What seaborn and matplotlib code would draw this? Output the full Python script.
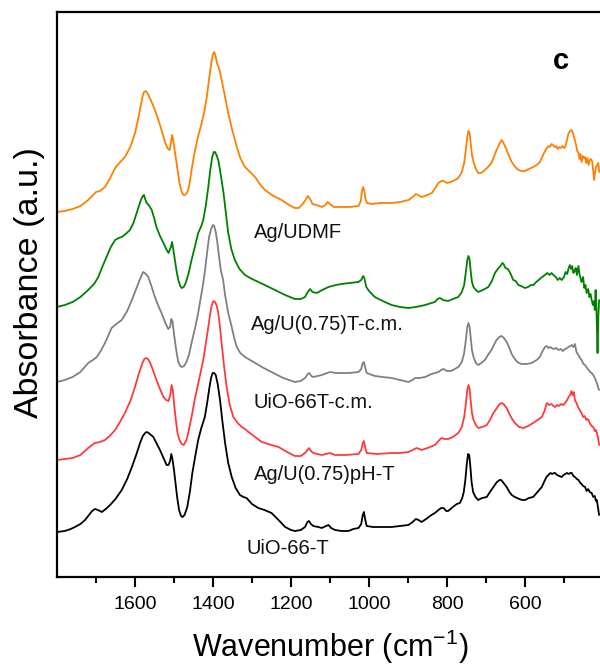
import matplotlib
matplotlib.use("Agg")
import matplotlib.pyplot as plt
import seaborn as sns
import pandas as pd
from matplotlib.ticker import FixedLocator

# FTIR spectra, stacked (absorbance in arbitrary, offset units)
wn_udmf = [1800, 1780, 1760, 1740, 1720, 1710, 1700, 1690, 1677, 1665, 1651, 1640, 1626, 1612,
           1600, 1592, 1586, 1581, 1577, 1573, 1568, 1562, 1555, 1549, 1540, 1532, 1524, 1517,
           1511, 1508, 1505, 1502, 1499, 1495, 1491, 1486, 1481, 1476, 1472, 1467, 1463, 1459,
           1455, 1449, 1442, 1436, 1429, 1422, 1416, 1412, 1408, 1404, 1400, 1397, 1394, 1390,
           1386, 1382, 1378, 1370, 1361, 1350, 1339, 1330, 1318, 1305, 1292, 1280, 1267, 1245,
           1224, 1205, 1190, 1180, 1170, 1163, 1157, 1151, 1145, 1135, 1121, 1112, 1106, 1100,
           1090, 1074, 1050, 1027, 1021, 1018, 1015, 1012, 1009, 1005, 993, 970, 942, 920, 899,
           888, 880, 874, 865, 850, 839, 830, 822, 815, 809, 800, 790, 780, 771, 762, 756, 752,
           748, 745, 742, 739, 736, 732, 726, 720, 712, 703, 695, 686, 680, 673, 666, 660, 655,
           647, 640, 634, 625, 617, 608, 600, 590, 579, 570, 562, 556, 550, 544, 540, 536, 532,
           528, 524, 520, 516, 512, 508, 504, 500, 497, 493, 489, 485, 481, 477, 473, 469, 466,
           463, 460, 458, 455, 452, 449, 446, 443, 440, 437, 434, 431, 428, 425, 423, 421, 418,
           415, 412, 410]
ab_udmf = [365, 366, 368, 371, 377, 381, 385, 386, 390, 398, 409, 414, 420, 430,
           444, 458, 470, 480, 485, 486, 484, 479, 473, 467, 457, 447, 436, 429,
           427, 434, 442, 437, 429, 418, 407, 394, 386, 382, 382, 384, 388, 396,
           407, 421, 434, 444, 454, 466, 480, 492, 504, 515, 523, 525, 522, 514,
           510, 505, 497, 482, 464, 446, 430, 419, 410, 405, 400, 393, 387, 381,
           377, 372, 369, 369, 373, 377, 381, 378, 373, 372, 370, 372, 375, 373,
           370, 370, 370, 371, 376, 386, 390, 386, 378, 374, 373, 374, 374, 375, 377,
           380, 383, 382, 380, 382, 384, 389, 394, 396, 396, 394, 395, 397, 399, 405, 414, 426,
           440, 446, 444, 433, 422, 415, 408, 404, 404, 407, 410, 414, 420, 427, 433, 437, 434,
           427, 420, 415, 410, 407, 406, 406, 408, 410, 412, 415, 420, 425, 429, 431, 430, 433,
           432, 430, 431, 428, 430, 429, 431, 429, 430, 436, 443, 446, 447, 444, 438, 432, 426,
           424, 418, 423, 415, 421, 419, 420, 414, 419, 412, 417, 418, 416, 406, 397, 402, 410,
           412, 414, 405]

wn_tcm = [1800, 1780, 1760, 1740, 1720, 1705, 1694, 1684, 1673, 1662, 1651, 1642, 1634, 1624,
          1613, 1604, 1596, 1590, 1585, 1580, 1577, 1574, 1570, 1565, 1557, 1551, 1545, 1536,
          1527, 1520, 1514, 1508, 1505, 1502, 1498, 1493, 1489, 1484, 1480, 1475, 1470, 1463,
          1455, 1446, 1438, 1430, 1425, 1419, 1412, 1407, 1402, 1398, 1395, 1391, 1386, 1380,
          1373, 1367, 1361, 1353, 1344, 1332, 1318, 1300, 1284, 1262, 1241, 1215, 1190, 1175,
          1164, 1157, 1151, 1145, 1134, 1120, 1104, 1085, 1070, 1050, 1027, 1020, 1015, 1012,
          1007, 1000, 985, 965, 942, 920, 899, 880, 856, 840, 831, 824, 818, 810, 797, 785, 771,
          762, 756, 752, 748, 745, 742, 739, 736, 732, 726, 720, 708, 694, 685, 677, 670, 663,
          658, 655, 650, 644, 638, 630, 624, 617, 610, 600, 592, 585, 578, 574, 565, 556, 549,
          543, 537, 532, 527, 521, 516, 511, 506, 500, 496, 492, 488, 485, 482, 479, 476, 473,
          470, 467, 463, 460, 457, 455, 451, 448, 445, 442, 438, 435, 432, 429, 426, 423, 421,
          419, 417, 415, 414, 412, 410]
ab_tcm = [270, 272, 275, 280, 287, 293, 300, 310, 320, 330, 337, 339, 340, 343,
          347, 354, 364, 371, 377, 381, 382, 378, 374, 372, 367, 359, 350, 341,
          334, 328, 324, 330, 335, 328, 318, 305, 297, 291, 289, 290, 294, 303,
          317, 331, 344, 351, 357, 370, 390, 407, 420, 425, 425, 422, 416, 402,
          384, 364, 344, 328, 317, 308, 302, 298, 295, 291, 287, 282, 278, 278,
          280, 285, 288, 285, 284, 287, 290, 292, 293, 294, 295, 297, 301, 299,
          290, 286, 280, 276, 272, 270, 269, 270, 272, 274, 275, 278, 279, 277, 276, 278, 280,
          285, 292, 304, 317, 321, 317, 305, 295, 290, 287, 285, 287, 290, 296, 304, 308, 311,
          314, 313, 309, 308, 304, 297, 296, 292, 291, 289, 290, 292, 292, 294, 297, 300, 302,
          304, 302, 304, 302, 300, 297, 299, 297, 300, 305, 303, 309, 312, 308, 311, 304, 306,
          309, 302, 311, 302, 298, 295, 300, 289, 292, 284, 288, 280, 283, 277, 272, 276, 267,
          287, 270, 240, 224, 260, 277]

wn_uio_cm = [1800, 1780, 1760, 1740, 1720, 1708, 1698, 1688, 1677, 1668, 1660, 1648, 1634, 1620,
             1608, 1598, 1590, 1584, 1579, 1575, 1570, 1566, 1558, 1549, 1540, 1532, 1523, 1515,
             1510, 1507, 1504, 1499, 1494, 1489, 1484, 1480, 1474, 1468, 1461, 1455, 1446, 1438,
             1432, 1427, 1421, 1415, 1410, 1405, 1400, 1397, 1393, 1389, 1385, 1380, 1374, 1369,
             1361, 1352, 1345, 1339, 1330, 1318, 1305, 1292, 1270, 1250, 1220, 1190, 1175, 1164,
             1157, 1153, 1148, 1143, 1121, 1100, 1085, 1070, 1050, 1027, 1020, 1016, 1013, 1010,
             1006, 985, 965, 942, 920, 899, 888, 882, 870, 856, 840, 822, 815, 809, 800, 790, 780,
             771, 762, 756, 752, 748, 745, 742, 739, 736, 732, 726, 720, 712, 703, 695, 686, 680,
             673, 666, 660, 654, 647, 640, 634, 628, 620, 609, 595, 583, 570, 562, 556, 549, 544,
             540, 535, 532, 526, 520, 514, 508, 503, 497, 492, 488, 484, 480, 476, 472, 468, 463,
             459, 455, 450, 446, 441, 437, 433, 429, 425, 421, 418, 415, 412, 410]
ab_uio_cm = [195, 197, 200, 205, 214, 217, 220, 226, 234, 242, 249, 253, 257, 266,
             277, 287, 295, 301, 305, 304, 302, 300, 291, 280, 271, 264, 255, 248,
             250, 258, 256, 240, 226, 215, 211, 210, 211, 215, 223, 234, 249, 264,
             278, 289, 305, 325, 340, 348, 352, 351, 345, 335, 322, 307, 297, 282,
             264, 250, 238, 230, 224, 220, 217, 214, 209, 205, 199, 195, 196, 199,
             203, 204, 201, 200, 202, 205, 204, 204, 204, 205, 208, 214, 215, 210,
             204, 201, 200, 199, 197, 195, 197, 199, 199, 200, 203, 205, 207, 208, 206, 206, 208,
             210, 215, 224, 236, 250, 254, 250, 238, 227, 220, 214, 212, 214, 217, 222, 227, 232,
             237, 240, 241, 239, 235, 229, 223, 219, 215, 213, 213, 214, 217, 220, 225, 230, 231,
             229, 230, 229, 228, 229, 227, 228, 226, 228, 229, 230, 231, 232, 230, 233, 225, 222,
             219, 217, 213, 212, 209, 207, 205, 204, 202, 199, 196, 193, 189, 187]

wn_ph = [1800, 1780, 1760, 1740, 1720, 1710, 1703, 1690, 1677, 1665, 1651, 1640, 1626, 1612,
         1600, 1592, 1586, 1581, 1576, 1572, 1567, 1562, 1555, 1545, 1536, 1527, 1520, 1514,
         1509, 1506, 1503, 1499, 1495, 1491, 1486, 1480, 1475, 1468, 1462, 1455, 1447, 1438,
         1430, 1425, 1419, 1412, 1407, 1403, 1399, 1395, 1391, 1387, 1382, 1378, 1372, 1365,
         1357, 1348, 1337, 1326, 1318, 1309, 1292, 1275, 1250, 1232, 1210, 1190, 1175, 1164,
         1158, 1154, 1149, 1143, 1121, 1110, 1100, 1087, 1060, 1027, 1020, 1016, 1013, 1010,
         1006, 980, 942, 920, 899, 888, 878, 871, 865, 850, 831, 822, 814, 806, 797, 785, 771,
         762, 756, 752, 748, 745, 742, 739, 736, 732, 726, 720, 710, 698, 690, 681, 672, 665,
         661, 655, 647, 640, 633, 626, 615, 604, 592, 579, 568, 557, 550, 544, 538, 532, 527,
         523, 518, 513, 508, 503, 497, 492, 488, 484, 481, 478, 475, 472, 468, 464, 460, 455,
         451, 447, 443, 440, 437, 433, 429, 425, 421, 418, 416, 413, 410]
ab_ph = [117, 118, 119, 122, 129, 132, 134, 135, 137, 141, 147, 154, 164, 176,
         190, 201, 208, 214, 218, 219, 218, 215, 208, 197, 188, 180, 177, 176,
         183, 192, 187, 170, 156, 144, 137, 133, 132, 137, 147, 160, 177, 194,
         208, 217, 232, 250, 264, 272, 276, 275, 272, 265, 250, 234, 212, 190,
         172, 160, 154, 150, 148, 145, 140, 135, 132, 130, 125, 121, 121, 124,
         127, 129, 126, 124, 122, 123, 124, 122, 122, 123, 127, 134, 136, 130,
         124, 123, 124, 124, 125, 127, 129, 128, 127, 129, 132, 136, 139, 138, 138, 140, 144,
         150, 160, 172, 187, 192, 188, 175, 164, 157, 152, 149, 150, 152, 157, 164, 169, 173,
         174, 173, 169, 163, 158, 154, 150, 149, 151, 154, 157, 160, 166, 174, 172, 173, 171,
         170, 172, 171, 173, 172, 174, 177, 180, 182, 186, 182, 185, 177, 174, 170, 167, 164,
         160, 161, 157, 158, 157, 153, 151, 150, 146, 147, 144, 140, 132]

wn_uio = [1800, 1780, 1765, 1754, 1740, 1728, 1718, 1710, 1703, 1695, 1685, 1675, 1664, 1650,
          1634, 1620, 1608, 1597, 1587, 1580, 1574, 1570, 1565, 1559, 1553, 1545, 1536, 1527,
          1519, 1514, 1510, 1507, 1504, 1500, 1497, 1492, 1487, 1482, 1478, 1473, 1466, 1459,
          1453, 1445, 1438, 1430, 1421, 1415, 1409, 1405, 1401, 1397, 1393, 1388, 1382, 1376,
          1369, 1361, 1352, 1342, 1331, 1322, 1314, 1300, 1284, 1268, 1250, 1232, 1215, 1200,
          1190, 1175, 1164, 1158, 1154, 1149, 1143, 1130, 1121, 1110, 1104, 1097, 1087, 1070,
          1053, 1040, 1027, 1020, 1016, 1013, 1010, 1006, 990, 970, 942, 920, 899, 888, 880, 873,
          865, 850, 840, 831, 822, 815, 809, 802, 797, 785, 775, 767, 761, 757, 753, 749, 746,
          743, 740, 737, 733, 727, 720, 710, 698, 690, 681, 672, 665, 661, 655, 647, 640, 634,
          626, 615, 607, 600, 590, 579, 568, 557, 550, 545, 540, 535, 530, 526, 523, 518, 512,
          506, 501, 497, 492, 488, 484, 480, 476, 472, 467, 463, 458, 455, 451, 446, 442, 438,
          434, 429, 425, 421, 418, 416, 413, 410]
ab_uio = [45, 46, 48, 50, 53, 57, 62, 66, 68, 67, 65, 68, 72, 78,
          87, 98, 110, 122, 134, 141, 144, 145, 144, 142, 140, 134, 127, 119,
          112, 112, 116, 123, 118, 107, 97, 80, 67, 61, 60, 62, 70, 86,
          104, 122, 137, 149, 160, 174, 190, 199, 204, 204, 202, 193, 177, 156,
          134, 114, 100, 89, 82, 80, 79, 73, 69, 67, 64, 57, 50, 47,
          46, 47, 50, 55, 56, 53, 51, 50, 49, 51, 52, 49, 47, 46,
          46, 48, 49, 53, 62, 65, 58, 51, 50, 50, 50, 51, 52, 55, 58, 57,
          55, 59, 62, 64, 67, 69, 69, 66, 66, 70, 73, 74, 79, 85, 97, 114, 123,
          122, 110, 95, 85, 80, 77, 79, 80, 85, 90, 95, 97, 97, 94, 90, 85, 82,
          80, 78, 77, 77, 79, 80, 85, 90, 96, 100, 102, 104, 103, 104, 104, 102, 101,
          100, 102, 103, 104, 103, 104, 104, 101, 100, 98, 97, 94, 93, 91, 90, 86, 88,
          85, 84, 80, 81, 76, 77, 70, 62]

names = ["Ag/UDMF", "Ag/U(0.75)T-c.m.", "UiO-66T-c.m.", "Ag/U(0.75)pH-T", "UiO-66-T"]
colors = ["#ff8000", "#008000", "#808080", "#ff3a3a", "#000000"]
label_wn = [1295, 1303, 1295, 1295, 1313]
label_ab = [344, 252, 175, 102, 29]

series = [(wn_udmf, ab_udmf), (wn_tcm, ab_tcm), (wn_uio_cm, ab_uio_cm),
          (wn_ph, ab_ph), (wn_uio, ab_uio)]
frames = []
for name, (w, a) in zip(names, series):
    frames.append(pd.DataFrame({"wavenumber": w, "absorbance": a, "sample": name}))
df = pd.concat(frames, ignore_index=True)

sns.set_theme(style="white", rc={"text.color": "black", "axes.labelcolor": "black",
                                 "xtick.color": "black", "mathtext.default": "regular"})
plt.rcParams["font.family"] = ["Liberation Sans", "DejaVu Sans"]

fig = plt.figure(figsize=(6.0, 6.66), dpi=100)
ax = fig.add_axes([57 / 600, 89 / 666, 546 / 600, 565 / 666])

sns.lineplot(data=df, x="wavenumber", y="absorbance", hue="sample",
             palette=dict(zip(names, colors)), hue_order=names,
             estimator=None, legend=False, linewidth=1.3, ax=ax)

for name, x, y in zip(names, label_wn, label_ab):
    ax.text(x, y, name, fontsize=14.5, ha="left", va="center", color="#111111")

ax.text(0.923, 0.913, "c", transform=ax.transAxes, fontsize=21, fontweight="bold",
        ha="center", va="center")

ax.set_xlim(1800, 400)
ax.set_ylim(0, 565)
ax.xaxis.set_major_locator(FixedLocator([1600, 1400, 1200, 1000, 800, 600]))
ax.xaxis.set_minor_locator(FixedLocator([1700, 1500, 1300, 1100, 900, 700, 500]))
ax.set_yticks([])
ax.tick_params(axis="x", which="major", direction="out", length=7, width=1.5,
               labelsize=14, pad=7, bottom=True, colors="black")
ax.tick_params(axis="x", which="minor", direction="out", length=4, width=1.5, bottom=True)
for side in ["left", "bottom", "top"]:
    ax.spines[side].set_visible(True)
    ax.spines[side].set_linewidth(1.6)
    ax.spines[side].set_color("black")
ax.spines["right"].set_visible(False)

ax.set_xlabel("Wavenumber (cm$^{-1}$)", fontsize=22, labelpad=10)
ax.set_ylabel("Absorbance (a.u.)", fontsize=24.5)
ax.yaxis.set_label_coords(-0.022, 0.522)

fig.savefig("out.png", dpi=100)
